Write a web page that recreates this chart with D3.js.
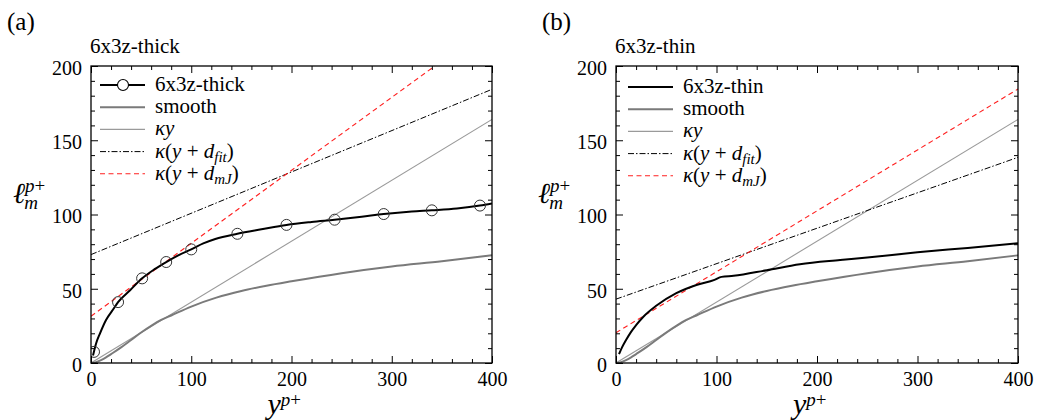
<!DOCTYPE html>
<html><head><meta charset="utf-8">
<script src="https://cdn.jsdelivr.net/npm/d3@7"></script>
<style>
body{margin:0;background:#fff;}
text{font-family:"Liberation Serif","DejaVu Serif",serif;fill:#000;}
</style></head>
<body><svg id="c" width="1039" height="420"></svg>
<script>
// ---- data ----
const xTicksMajor = [0, 100, 200, 300, 400];
const yTicksMajor = [0, 50, 100, 150, 200];

const smoothX = [0, 5, 10, 15, 20, 30, 40, 50, 60, 70, 80, 100, 125, 150, 175, 200, 250, 300, 350, 400];
const smoothY = [0, 0.6, 2, 3.8, 6, 10.5, 15.5, 20.5, 25, 29, 32, 38, 44, 48.5, 52, 55, 60.5, 65, 68.5, 72.5];

const kappa = 0.41;
const kyX = [0, 400];

const thickX = [2, 5, 9, 15, 22, 27, 39, 51, 63, 75, 87, 100, 112, 124, 146, 170, 195, 220, 243, 270, 292, 320, 340, 365, 388, 400];
const thickY = [5, 13, 20, 29, 36, 41, 49, 57, 63, 68, 72.5, 76.5, 80.5, 83.5, 87, 90, 93, 95, 96.5, 98.5, 100.3, 102, 102.8, 104, 106, 107.5];
const thickMarkX = [3, 27, 51, 75, 100, 146, 195, 243, 292, 340, 388];
const thickMarkY = [7.5, 41, 57, 68, 76.5, 87, 93, 96.5, 100.3, 102.8, 106];
const thickFitX = [0, 400],  thickFitY = [73, 184.3];
const thickMjX  = [0, 343],  thickMjY  = [31.5, 200];

const thinX = [3, 6, 10, 15, 20, 27, 40, 60, 80, 98, 105, 117, 150, 183, 223, 250, 300, 350, 400];
const thinY = [6, 10.5, 15.5, 21, 25.5, 31, 38.5, 47, 52.5, 56, 58, 58.7, 62.5, 66.5, 69.3, 71, 74.5, 77.5, 80.6];
const thinFitX = [0, 400], thinFitY = [43, 138.5];
const thinMjX  = [0, 400], thinMjY  = [20.4, 184.5];

const panels = [
  {tag:"(a)", title:"6x3z-thick", x0:91, x1:492, name:"6x3z-thick",
   curveX:thickX, curveY:thickY, markX:thickMarkX, markY:thickMarkY,
   fitX:thickFitX, fitY:thickFitY, mjX:thickMjX, mjY:thickMjY,
   legX:100, legY:85, tagX:7},
  {tag:"(b)", title:"6x3z-thin", x0:616, x1:1018, name:"6x3z-thin",
   curveX:thinX, curveY:thinY, markX:null, markY:null,
   fitX:thinFitX, fitY:thinFitY, mjX:thinMjX, mjY:thinMjY,
   legX:628, legY:87, tagX:542}
];

const svg = d3.select("#c");
const yTop = 66, yBot = 363;
const zip = (a,b) => a.map((v,i)=>[v,b[i]]);

panels.forEach(p => {
  const x = d3.scaleLinear().domain([0,400]).range([p.x0,p.x1]);
  const y = d3.scaleLinear().domain([0,200]).range([yBot,yTop]);
  const g = svg.append("g");
  const clipId = "clip"+p.tag.replace(/\W/g,"");
  svg.append("clipPath").attr("id",clipId).append("rect")
    .attr("x",p.x0).attr("y",yTop).attr("width",p.x1-p.x0).attr("height",yBot-yTop);

  const plot = g.append("g").attr("clip-path",`url(#${clipId})`);
  const lin = d3.line().x(d=>x(d[0])).y(d=>y(d[1]));
  const smooth = d3.line().x(d=>x(d[0])).y(d=>y(d[1])).curve(d3.curveMonotoneX);

  plot.append("path").datum(kyX.map(v=>[v,kappa*v])).attr("d",lin)
    .attr("fill","none").attr("stroke","#9a9a9a").attr("stroke-width",1.1);
  plot.append("path").datum(zip(smoothX,smoothY)).attr("d",smooth)
    .attr("fill","none").attr("stroke","#7a7a7a").attr("stroke-width",2);
  plot.append("path").datum(zip(p.fitX,p.fitY)).attr("d",lin)
    .attr("fill","none").attr("stroke","#000").attr("stroke-width",1)
    .attr("stroke-dasharray","6,2,1.5,2");
  plot.append("path").datum(zip(p.mjX,p.mjY)).attr("d",lin)
    .attr("fill","none").attr("stroke","#ff2020").attr("stroke-width",1.1)
    .attr("stroke-dasharray","5,3.5");
  plot.append("path").datum(zip(p.curveX,p.curveY)).attr("d",smooth)
    .attr("fill","none").attr("stroke","#000").attr("stroke-width",2);
  if (p.markX) {
    plot.selectAll("circle.m").data(zip(p.markX,p.markY)).enter().append("circle")
      .attr("cx",d=>x(d[0])).attr("cy",d=>y(d[1])).attr("r",5.5)
      .attr("fill","none").attr("stroke","#333").attr("stroke-width",1);
  }

  // axes (inward ticks)
  const minorX = d3.range(0,401,20).filter(v=>v%100!==0);
  const minorY = d3.range(0,201,10).filter(v=>v%50!==0);
  const axStyle = s => { s.select(".domain").remove(); s.selectAll("line").attr("stroke","#000").attr("stroke-width",1); };
  const lab = s => s.selectAll("text").attr("font-size",20).attr("font-family","Liberation Serif").attr("fill","#000");
  g.append("g").attr("transform",`translate(0,${yBot})`)
    .call(d3.axisBottom(x).tickValues(xTicksMajor).tickSize(-7).tickPadding(9).tickFormat(d3.format("d")))
    .call(axStyle).call(lab);
  g.append("g").attr("transform",`translate(0,${yBot})`)
    .call(d3.axisBottom(x).tickValues(minorX).tickSize(-4).tickFormat("")).call(axStyle);
  g.append("g").attr("transform",`translate(0,${yTop})`)
    .call(d3.axisTop(x).tickValues(xTicksMajor).tickSize(-7).tickFormat("")).call(axStyle);
  g.append("g").attr("transform",`translate(0,${yTop})`)
    .call(d3.axisTop(x).tickValues(minorX).tickSize(-4).tickFormat("")).call(axStyle);
  g.append("g").attr("transform",`translate(${p.x0},0)`)
    .call(d3.axisLeft(y).tickValues(yTicksMajor).tickSize(-7).tickPadding(9).tickFormat(d3.format("d")))
    .call(axStyle).call(lab).call(s=>s.selectAll("text").attr("dy","0.42em"));
  g.append("g").attr("transform",`translate(${p.x0},0)`)
    .call(d3.axisLeft(y).tickValues(minorY).tickSize(-4).tickFormat("")).call(axStyle);
  g.append("g").attr("transform",`translate(${p.x1},0)`)
    .call(d3.axisRight(y).tickValues(yTicksMajor).tickSize(-7).tickFormat("")).call(axStyle);
  g.append("g").attr("transform",`translate(${p.x1},0)`)
    .call(d3.axisRight(y).tickValues(minorY).tickSize(-4).tickFormat("")).call(axStyle);
  g.append("rect").attr("x",p.x0).attr("y",yTop).attr("width",p.x1-p.x0).attr("height",yBot-yTop)
    .attr("fill","none").attr("stroke","#000").attr("stroke-width",1.3);

  // labels
  g.append("text").attr("x",p.tagX).attr("y",30).attr("font-size",25).text(p.tag);
  g.append("text").attr("x",p.x0-1).attr("y",53).attr("font-size",21).text(p.title);
  // x label
  const xl = g.append("text").attr("x",(p.x0+p.x1)/2-24).attr("y",414).attr("font-size",30);
  xl.append("tspan").attr("font-style","italic").text("y");
  xl.append("tspan").attr("font-size",19).attr("dy",-8).attr("font-style","italic").text("p");
  xl.append("tspan").attr("font-size",19).text("+");
  // y label
  const yl = g.append("text").attr("x",p.x0-78).attr("y",203).attr("font-size",29);
  yl.append("tspan").attr("font-style","italic").text("ℓ");
  yl.append("tspan").attr("font-size",19).attr("dy",-11).attr("font-style","italic").text("p");
  yl.append("tspan").attr("font-size",19).text("+");
  yl.append("tspan").attr("font-size",19).attr("font-style","italic").attr("dx",-21).attr("dy",17).text("m");

  // legend
  const leg = g.append("g");
  const rows = [
    {stroke:"#000", w:2, dash:null, mark:!!p.markX, label:[["",p.name]]},
    {stroke:"#7a7a7a", w:2, dash:null, label:[["","smooth"]]},
    {stroke:"#9a9a9a", w:1.1, dash:null, label:[["i","κy"]]},
    {stroke:"#000", w:1, dash:"6,2,1.5,2", label:[["i","κ"],["","("],["i","y"],[""," + "],["i","d"],["si","fit"],["n",")"]]},
    {stroke:"#ff2020", w:1.1, dash:"5,3.5", label:[["i","κ"],["","("],["i","y"],[""," + "],["i","d"],["si","mJ"],["n",")"]]}
  ];
  rows.forEach((r,i) => {
    const yy = p.legY + i*22.2;
    const l = leg.append("line").attr("x1",p.legX).attr("x2",p.legX+45).attr("y1",yy).attr("y2",yy)
      .attr("stroke",r.stroke).attr("stroke-width",r.w);
    if (r.dash) l.attr("stroke-dasharray",r.dash);
    if (r.mark) leg.append("circle").attr("cx",p.legX+23).attr("cy",yy).attr("r",5.5)
      .attr("fill","#fff").attr("stroke","#000").attr("stroke-width",1.1);
    const t = leg.append("text").attr("x",p.legX+55).attr("y",yy+6).attr("font-size",21);
    r.label.forEach(([k,s]) => {
      const ts = t.append("tspan").text(s);
      if (k==="i") ts.attr("font-style","italic");
      if (k==="si") ts.attr("font-style","italic").attr("font-size",15).attr("dy",4);
      if (k==="n") ts.attr("dy",-4);
    });
  });
});
</script></body></html>
